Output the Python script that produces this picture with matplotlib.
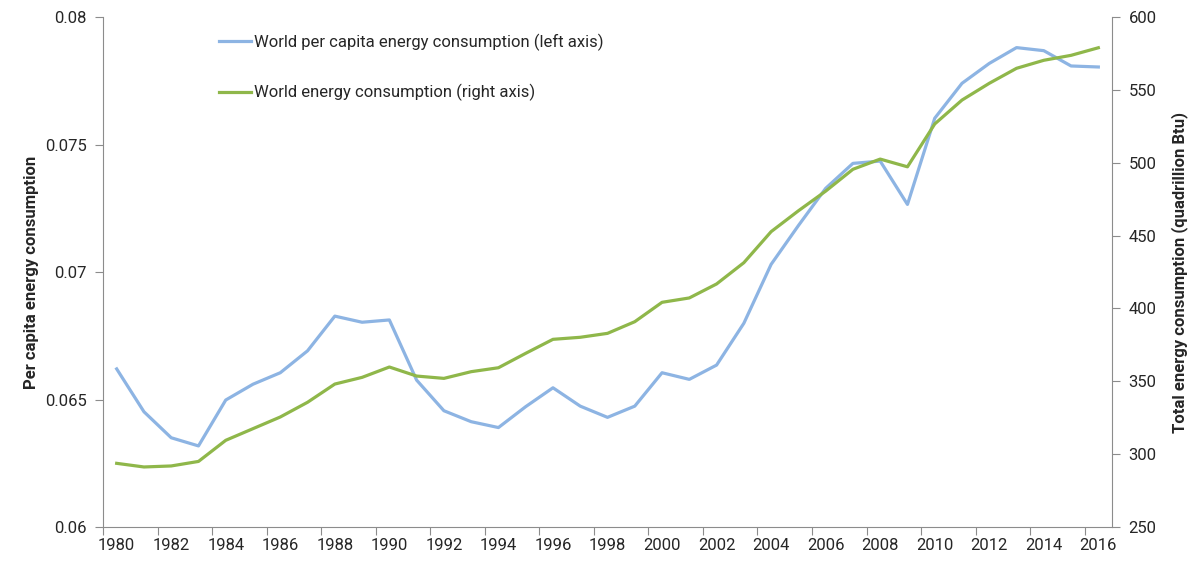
import matplotlib.pyplot as plt
from matplotlib.ticker import FixedLocator, NullFormatter

years = list(range(1980, 2017))

per_capita = [
    0.0662, 0.06452, 0.0635, 0.06318, 0.06498, 0.0656, 0.06605, 0.06691,
    0.06827, 0.06803, 0.06812, 0.06576, 0.06456, 0.06413, 0.0639, 0.06472,
    0.06546, 0.06474, 0.0643, 0.06474, 0.06605, 0.06579, 0.06635, 0.06799,
    0.0703, 0.07182, 0.07328, 0.07426, 0.07435, 0.07265, 0.07603, 0.0774,
    0.07818, 0.0788, 0.07868, 0.07808, 0.07804,
]

total = [
    293.7, 291.2, 291.9, 295.0, 309.5, 317.5, 325.5, 335.6, 348.1, 352.7,
    359.8, 353.6, 352.0, 356.6, 359.3, 369.2, 378.8, 380.2, 382.9, 390.9,
    404.2, 407.2, 416.8, 431.4, 452.7, 467.0, 480.5, 495.5, 502.5, 497.2,
    526.6, 543.0, 554.5, 564.8, 570.3, 573.7, 578.9,
]

blue = "#8db4e3"
green = "#8fb74a"
axis_gray = "#8c8c8c"
text_gray = "#262626"

plt.rcParams["font.family"] = ["Liberation Sans Narrow", "Roboto", "DejaVu Sans"]
plt.rcParams["font.size"] = 12

fig = plt.figure(figsize=(11.94, 5.69), dpi=100)
ax = fig.add_axes([0.0863, 0.0738, 0.845, 0.8963])
ax2 = ax.twinx()

l1, = ax.plot(years, per_capita, color=blue, lw=2.3,
              label="World per capita energy consumption (left axis)")
l2, = ax2.plot(years, total, color=green, lw=2.3,
               label="World energy consumption (right axis)")

ax.set_xlim(1979.5, 2016.5)
ax.set_ylim(0.06, 0.08)
ax2.set_ylim(250, 600)
ax.set_yticks([0.06, 0.065, 0.07, 0.075, 0.08])
ax.set_yticklabels(["0.06", "0.065", "0.07", "0.075", "0.08"])
ax2.set_yticks([250, 300, 350, 400, 450, 500, 550, 600])

# category-style x axis: tick marks between years, labels on the years
ax.xaxis.set_major_locator(FixedLocator([y - 0.5 for y in years[::2]]))
ax.xaxis.set_major_formatter(NullFormatter())
ax.xaxis.set_minor_locator(FixedLocator(years[::2]))
ax.set_xticklabels([str(y) for y in years[::2]], minor=True)
ax.tick_params(axis="x", which="major", length=6, color=axis_gray, direction="out")
ax.tick_params(axis="x", which="minor", length=0, pad=8, labelcolor=text_gray)

for a in (ax, ax2):
    a.spines["top"].set_visible(False)
    for side in ("left", "right", "bottom"):
        a.spines[side].set_color(axis_gray)
    a.tick_params(axis="y", length=6, color=axis_gray, labelcolor=text_gray, pad=6)
ax.spines["right"].set_visible(False)
ax2.spines["left"].set_visible(False)
ax2.spines["bottom"].set_visible(False)

ax.set_ylabel("Per capita energy consumption", fontweight="bold",
              color=text_gray, labelpad=4)
ax2.set_ylabel("Total energy consumption (quadrillion Btu)", fontweight="bold",
               color=text_gray, labelpad=10)

ax.legend(handles=[l1, l2], loc="upper left", bbox_to_anchor=(0.10, 0.997),
          frameon=False, handlelength=1.9, handletextpad=0.2,
          labelspacing=2.0, fontsize=12, labelcolor=text_gray)

fig.savefig("out.png", dpi=100)
